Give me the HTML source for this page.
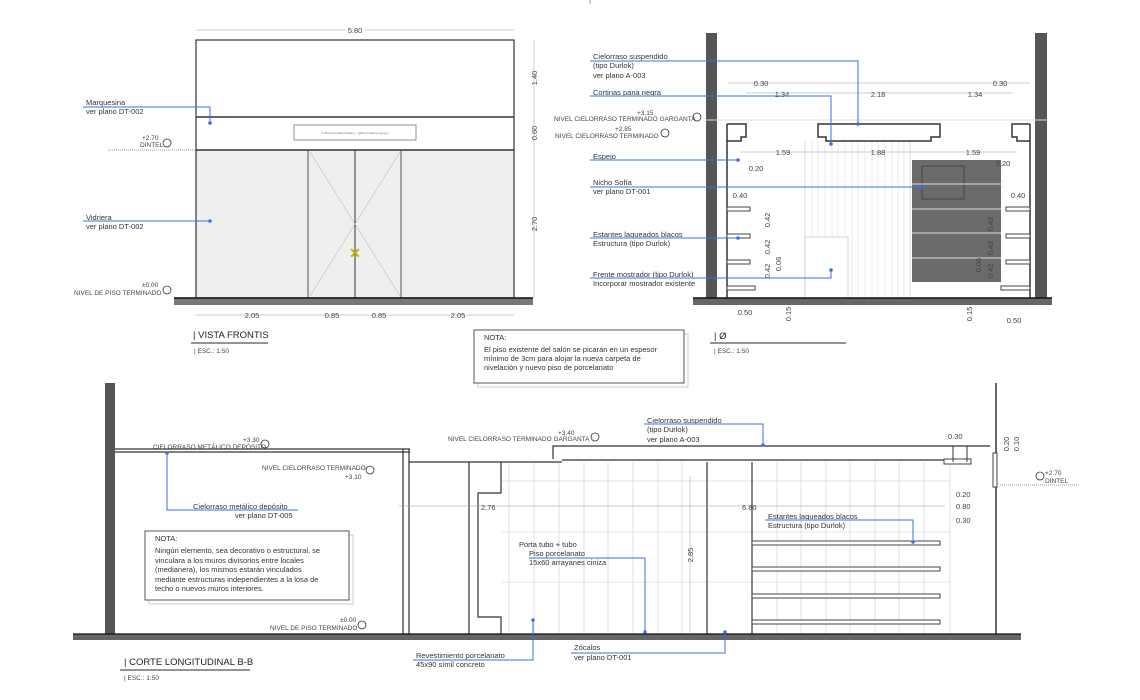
<!DOCTYPE html>
<html><head><meta charset="utf-8"><style>
html,body{margin:0;padding:0;background:#fff;}
svg{display:block;font-family:"Liberation Sans",sans-serif;}
.t{font-size:7.5px;fill:#333;}
.s{font-size:6.5px;fill:#444;}
.d{font-size:7.5px;fill:#444;}
.b{stroke:#3b6fe8;stroke-width:1;fill:none;}
.k{stroke:#333;fill:none;}
.g{stroke:#ccc;stroke-width:.6;fill:none;}
</style></head><body>
<svg width="1140" height="700" viewBox="0 0 1140 700" xmlns="http://www.w3.org/2000/svg">
<!-- ============ VISTA FRONTIS ============ -->
<rect x="196" y="150" width="318" height="148" fill="#efefef"/>
<rect x="196" y="40" width="318" height="258" class="k" stroke-width="1.2"/>
<line x1="196" y1="117" x2="514" y2="117" stroke="#333" stroke-width="1.5"/>
<line x1="196" y1="150" x2="514" y2="150" stroke="#333" stroke-width="1.5"/>
<rect x="294" y="125" width="122" height="15" fill="#fff" stroke="#777" stroke-width=".8"/>
<text x="355" y="134" font-size="3" fill="#777" text-anchor="middle">F:\Design\Gallery\Gallery - gallery\GalleryLogo.jpg</text>
<line x1="308" y1="150" x2="308" y2="298" stroke="#555"/><line x1="401" y1="150" x2="401" y2="298" stroke="#555"/>
<line x1="355" y1="150" x2="355" y2="298" stroke="#333"/>
<path d="M310 152 L400 296 M400 152 L310 296" stroke="#aaa" stroke-width=".5"/>
<text x="355" y="258" font-size="14" fill="#b5b300" text-anchor="middle" font-weight="bold">✕</text>
<rect x="174" y="298" width="359" height="7" fill="#777"/><line x1="174" y1="298" x2="533" y2="298" stroke="#111" stroke-width="1.5"/>
<!-- dims -->
<line x1="196" y1="30" x2="514" y2="30" stroke="#999" stroke-width=".5"/><text x="355" y="33" class="d" text-anchor="middle" style="paint-order:stroke" stroke="#fff" stroke-width="4">5.80</text>
<line x1="534" y1="40" x2="534" y2="298" stroke="#999" stroke-width=".5"/>
<text transform="translate(537,78) rotate(-90)" class="d" text-anchor="middle">1.40</text>
<text transform="translate(537,133) rotate(-90)" class="d" text-anchor="middle">0.60</text>
<text transform="translate(537,224) rotate(-90)" class="d" text-anchor="middle">2.70</text>
<line x1="196" y1="315" x2="514" y2="315" stroke="#999" stroke-width=".5"/>
<g class="d" text-anchor="middle"><text x="252" y="318">2.05</text><text x="332" y="318">0.85</text><text x="379" y="318">0.85</text><text x="458" y="318">2.05</text></g>
<!-- labels -->
<text x="86" y="105" class="t">Marquesina</text><text x="86" y="114" class="t">ver plano DT-002</text>
<path d="M83 107 H210 V123" class="b"/><circle cx="210" cy="123" r="1.8" fill="#3b6fe8"/>
<text x="86" y="220" class="t">Vidriera</text><text x="86" y="229" class="t">ver plano DT-002</text>
<path d="M83 221 H210" class="b"/><circle cx="210" cy="221" r="1.8" fill="#3b6fe8"/>
<text x="142" y="140" class="s">+2.70</text><text x="140" y="147" class="s">DINTEL</text>
<circle cx="167" cy="143" r="4" fill="none" stroke="#333" stroke-width=".8"/>
<line x1="108" y1="150" x2="196" y2="150" stroke="#999" stroke-dasharray="1,1"/>
<text x="142" y="287" class="s">±0.00</text><text x="74" y="295" class="s">NIVEL DE PISO TERMINADO</text>
<circle cx="167" cy="290" r="4" fill="none" stroke="#333" stroke-width=".8"/>
<text x="193" y="338" font-size="9.5" fill="#222">| VISTA FRONTIS</text>
<line x1="191" y1="343" x2="268" y2="343" stroke="#555" stroke-width="1.2"/>
<text x="194" y="353" class="s">| ESC.: 1:50</text>
<!-- NOTA -->
<rect x="478" y="334" width="210" height="53" fill="none" stroke="#ccc"/>
<rect x="474" y="330" width="210" height="53" fill="#fff" stroke="#555"/>
<text x="484" y="340" class="t">NOTA:</text>
<text x="484" y="352" class="t">El piso existente del salón se picarán en un espesor</text>
<text x="484" y="361" class="t">mínimo de 3cm para alojar la nueva carpeta de</text>
<text x="484" y="370" class="t">nivelación y nuevo piso de porcelanato</text>

<!-- ============ Ø ELEVATION ============ -->
<rect x="706" y="33" width="11" height="266" fill="#555"/>
<rect x="1035" y="33" width="12" height="266" fill="#555"/>
<g stroke="#bbb" stroke-width=".5">
<line x1="805" y1="141" x2="805" y2="298"/><line x1="910" y1="141" x2="910" y2="298"/>
</g>
<g stroke="#ddd" stroke-width=".6">
<line x1="812" y1="141" x2="812" y2="298"/><line x1="818" y1="141" x2="818" y2="298"/><line x1="825" y1="141" x2="825" y2="298"/><line x1="832" y1="141" x2="832" y2="298"/><line x1="838" y1="141" x2="838" y2="298"/><line x1="845" y1="141" x2="845" y2="298"/><line x1="852" y1="141" x2="852" y2="298"/><line x1="858" y1="141" x2="858" y2="298"/><line x1="865" y1="141" x2="865" y2="298"/><line x1="872" y1="141" x2="872" y2="298"/><line x1="878" y1="141" x2="878" y2="298"/><line x1="885" y1="141" x2="885" y2="298"/><line x1="892" y1="141" x2="892" y2="298"/><line x1="898" y1="141" x2="898" y2="298"/><line x1="904" y1="141" x2="904" y2="298"/>
</g>
<rect x="805" y="237" width="43" height="61" fill="#fff" stroke="#bbb" stroke-width=".6"/>
<rect x="912" y="160" width="89" height="122" fill="#6b6b6b"/>
<rect x="922" y="166" width="42" height="33" fill="none" stroke="#444"/>
<g stroke="#ddd" stroke-width="1"><line x1="912" y1="184" x2="1001" y2="184"/><line x1="912" y1="209" x2="1001" y2="209"/><line x1="912" y1="233" x2="1001" y2="233"/><line x1="912" y1="258" x2="1001" y2="258"/></g>
<g fill="none" stroke="#333" stroke-width="1.5">
<line x1="727" y1="124" x2="727" y2="298"/><line x1="1030" y1="124" x2="1030" y2="298"/>
<path d="M727 124 H746 V137 H741 V141 H727"/>
<path d="M818 124 H940 V137 H931 V141 H826 V137 H818 Z"/>
<path d="M1030 124 H1012 V137 H1017 V141 H1030"/>
</g>
<g fill="#fff" stroke="#444" stroke-width="1">
<rect x="727" y="207" width="23" height="4"/><rect x="727" y="234" width="23" height="4"/><rect x="727" y="260" width="23" height="4"/><rect x="727" y="286" width="28" height="4"/>
<rect x="1006" y="207" width="24" height="4"/><rect x="1006" y="234" width="24" height="4"/><rect x="1006" y="260" width="24" height="4"/><rect x="1001" y="286" width="29" height="4"/>
</g>
<rect x="693" y="298" width="359" height="7" fill="#666"/><line x1="693" y1="298" x2="1052" y2="298" stroke="#111" stroke-width="1.5"/>
<line x1="706" y1="120" x2="1047" y2="120" stroke="#ddd"/>
<!-- dims -->
<g stroke="#999" stroke-width=".5"><line x1="728" y1="83" x2="1030" y2="83"/><line x1="746" y1="93" x2="1012" y2="93"/><line x1="740" y1="152" x2="1017" y2="152"/></g>
<g class="d" text-anchor="middle">
<text x="761" y="86">0.30</text><text x="1000" y="86">0.30</text>
<text x="782" y="97">1.34</text><text x="878" y="97">2.18</text><text x="975" y="97">1.34</text>
<text x="783" y="155">1.59</text><text x="878" y="155">1.88</text><text x="973" y="155">1.59</text>
<text x="756" y="171">0.20</text><text x="1003" y="166">0.20</text>
<text x="740" y="198">0.40</text><text x="1018" y="198">0.40</text>
<text x="745" y="315">0.50</text><text x="1014" y="323">0.50</text>
</g>
<g class="d" text-anchor="middle">
<text transform="translate(770,220) rotate(-90)">0.42</text><text transform="translate(770,247) rotate(-90)">0.42</text><text transform="translate(770,271) rotate(-90)">0.42</text><text transform="translate(781,264) rotate(-90)">0.06</text>
<text transform="translate(791,314) rotate(-90)">0.15</text><text transform="translate(972,314) rotate(-90)">0.15</text>
<text transform="translate(993,224) rotate(-90)">0.42</text><text transform="translate(993,248) rotate(-90)">0.42</text><text transform="translate(993,271) rotate(-90)">0.42</text><text transform="translate(981,265) rotate(-90)">0.06</text>
</g>
<text x="637" y="115" class="s">+3.15</text><text x="554" y="121" class="s">NIVEL CIELORRASO TERMINADO GARGANTA</text>
<text x="615" y="131" class="s">+2.85</text><text x="555" y="138" class="s">NIVEL CIELORRASO TERMINADO</text>
<circle cx="697" cy="117" r="4" fill="none" stroke="#333" stroke-width=".8"/><circle cx="665" cy="133" r="4" fill="none" stroke="#333" stroke-width=".8"/>
<g class="t">
<text x="593" y="59">Cielorraso suspendido</text><text x="593" y="68">(tipo Durlok)</text><text x="593" y="78">ver plano A-003</text>
<text x="593" y="95">Cortinas pana negra</text>
<text x="593" y="159">Espejo</text>
<text x="593" y="185">Nicho Sofía</text><text x="593" y="194">ver plano DT-001</text>
<text x="593" y="237">Estantes laqueados blacos</text><text x="593" y="246">Estructura (tipo Durlok)</text>
<text x="593" y="277">Frente mostrador  (tipo Durlok)</text><text x="593" y="286">Incorporar mostrador existente</text>
</g>
<g class="b">
<path d="M590 61 H858 V124"/><path d="M590 96 H831 V144"/><path d="M590 160 H738"/>
<path d="M590 187 H922"/><path d="M590 238 H738"/><path d="M590 278 H831 V270"/>
</g>
<g fill="#3b6fe8"><circle cx="858" cy="124" r="1.8"/><circle cx="831" cy="144" r="1.8"/><circle cx="738" cy="160" r="1.8"/><circle cx="922" cy="187" r="1.8"/><circle cx="738" cy="238" r="1.8"/><circle cx="831" cy="270" r="1.8"/></g>
<text x="714" y="339" font-size="9.5" fill="#222">| Ø</text>
<line x1="710" y1="343" x2="846" y2="343" stroke="#555" stroke-width="1.2"/>
<text x="714" y="353" class="s">| ESC.: 1:50</text>

<!-- ============ CORTE LONGITUDINAL ============ -->
<rect x="105" y="383" width="10" height="252" fill="#555"/>
<line x1="996" y1="383" x2="996" y2="634" stroke="#333" stroke-width="1.5"/>
<!-- tiles -->
<g class="g">
<line x1="509" y1="462" x2="509" y2="634"/><line x1="534" y1="462" x2="534" y2="634"/><line x1="559" y1="462" x2="559" y2="634"/><line x1="584" y1="462" x2="584" y2="634"/><line x1="608" y1="462" x2="608" y2="634"/><line x1="633" y1="462" x2="633" y2="634"/><line x1="658" y1="462" x2="658" y2="634"/><line x1="682" y1="462" x2="682" y2="634"/><line x1="707" y1="462" x2="707" y2="634"/><line x1="752" y1="462" x2="752" y2="634"/><line x1="777" y1="462" x2="777" y2="634"/><line x1="801" y1="462" x2="801" y2="634"/><line x1="826" y1="462" x2="826" y2="634"/><line x1="850" y1="462" x2="850" y2="634"/><line x1="875" y1="462" x2="875" y2="634"/><line x1="899" y1="462" x2="899" y2="634"/><line x1="924" y1="462" x2="924" y2="634"/><line x1="950" y1="462" x2="950" y2="634"/>
<line x1="502" y1="481" x2="950" y2="481"/><line x1="502" y1="532" x2="950" y2="532"/><line x1="502" y1="582" x2="950" y2="582"/>
</g>
<g fill="none" stroke="#333" stroke-width="1.2">
<line x1="115" y1="449" x2="410" y2="449"/><line x1="115" y1="452" x2="410" y2="452"/>
<line x1="403" y1="449" x2="403" y2="634"/><line x1="409" y1="449" x2="409" y2="634"/>
<line x1="409" y1="462" x2="562" y2="462"/>
<line x1="469" y1="462" x2="469" y2="634"/>
<path d="M501 462 V493 H478 V617 H501 V634"/>
<path d="M553 459 V446 H990"/><line x1="562" y1="460" x2="945" y2="460"/>
<line x1="707" y1="462" x2="707" y2="634"/><line x1="752" y1="462" x2="752" y2="634"/>
</g>
<g fill="#fff" stroke="#444"><rect x="944" y="459" width="27" height="5"/><rect x="752" y="541" width="188" height="4"/><rect x="752" y="567" width="188" height="4"/><rect x="752" y="594" width="188" height="4"/><rect x="752" y="620" width="188" height="4"/>
<rect x="993" y="453" width="4" height="34"/></g>
<line x1="953" y1="446" x2="953" y2="462" stroke="#333"/><line x1="967" y1="446" x2="967" y2="462" stroke="#333"/>
<rect x="73" y="634" width="948" height="6" fill="#666"/><line x1="73" y1="634" x2="1021" y2="634" stroke="#111" stroke-width="1.2"/>
<!-- dims -->
<line x1="399" y1="506" x2="945" y2="506" stroke="#999" stroke-width=".5"/>
<text x="481" y="510" class="d">2.76</text><text x="742" y="510" class="d">6.80</text>
<line x1="690" y1="476" x2="690" y2="634" stroke="#999" stroke-width=".5"/>
<text transform="translate(693,555) rotate(-90)" class="d" text-anchor="middle">2.85</text>
<g class="d"><text x="948" y="439">0.30</text><text x="956" y="497">0.20</text><text x="956" y="509">0.80</text><text x="956" y="523">0.30</text></g>
<text transform="translate(1009,444) rotate(-90)" class="d" text-anchor="middle">0.20</text>
<text transform="translate(1019,444) rotate(-90)" class="d" text-anchor="middle">0.10</text>
<text x="1045" y="475" class="s">+2.70</text><text x="1045" y="483" class="s">DINTEL</text>
<circle cx="1040" cy="476" r="4" fill="none" stroke="#333" stroke-width=".8"/>
<line x1="1000" y1="485" x2="1080" y2="485" stroke="#999" stroke-dasharray="1,1"/>
<text x="243" y="442" class="s">+3.30</text><text x="153" y="449" class="s">CIELORRASO METÁLICO DEPÓSITO</text>
<circle cx="265" cy="444" r="4" fill="none" stroke="#333" stroke-width=".8"/>
<text x="262" y="470" class="s">NIVEL CIELORRASO TERMINADO</text><text x="345" y="479" class="s">+3.10</text>
<circle cx="370" cy="470" r="4" fill="none" stroke="#333" stroke-width=".8"/>
<text x="340" y="622" class="s">±0.00</text><text x="270" y="630" class="s">NIVEL DE PISO TERMINADO</text>
<circle cx="362" cy="625" r="4" fill="none" stroke="#333" stroke-width=".8"/>
<text x="448" y="441" class="s">NIVEL CIELORRASO TERMINADO GARGANTA</text><text x="558" y="435" class="s">+3.40</text>
<circle cx="595" cy="437" r="4" fill="none" stroke="#333" stroke-width=".8"/>
<g class="t">
<text x="193" y="509">Cielorraso metálico depósito</text><text x="235" y="518">ver plano DT-005</text>
<text x="647" y="423">Cielorraso suspendido</text><text x="647" y="432">(tipo Durlok)</text><text x="647" y="442">ver plano A-003</text>
<text x="519" y="547">Porta tubo + tubo</text><text x="529" y="556">Piso porcelanato</text><text x="529" y="565">15x60 arrayanes ciniza</text>
<text x="768" y="519">Estantes laqueados blacos</text><text x="768" y="528">Estructura (tipo Durlok)</text>
<text x="416" y="658">Revestimiento porcelanato</text><text x="416" y="667">45x90 símil concreto</text>
<text x="574" y="650">Zócalos</text><text x="574" y="660">ver plano DT-001</text>
</g>
<g class="b">
<path d="M167 453 V510 H298"/><path d="M644 424 H763 V445"/><path d="M529 558 H645 V632"/>
<path d="M765 520 H913 V542"/><path d="M413 660 H533 V620"/><path d="M571 653 H725 V632"/>
</g>
<g fill="#3b6fe8"><circle cx="167" cy="453" r="1.8"/><circle cx="763" cy="445" r="1.8"/><circle cx="645" cy="632" r="1.8"/><circle cx="913" cy="542" r="1.8"/><circle cx="533" cy="620" r="1.8"/><circle cx="725" cy="632" r="1.8"/></g>
<rect x="149" y="535" width="204" height="69" fill="none" stroke="#ccc"/>
<rect x="145" y="531" width="204" height="69" fill="#fff" stroke="#555"/>
<text x="155" y="541" class="t">NOTA:</text>
<g class="t"><text x="155" y="553">Ningún elemento, sea decorativo o estructural, se</text><text x="155" y="563">vinculara a los muros divisorios entre locales</text><text x="155" y="572">(medianera), los mismos estarán vinculados</text><text x="155" y="582">mediante estructuras independientes a la losa de</text><text x="155" y="591">techo o nuevos muros interiores.</text></g>
<text x="124" y="665" font-size="9.5" fill="#222">| CORTE LONGITUDINAL B-B</text>
<line x1="120" y1="670" x2="250" y2="670" stroke="#555" stroke-width="1.2"/>
<text x="124" y="680" class="s">| ESC.: 1:50</text>
<line x1="590" y1="0" x2="590" y2="4" stroke="#999"/>
</svg>
</body></html>
